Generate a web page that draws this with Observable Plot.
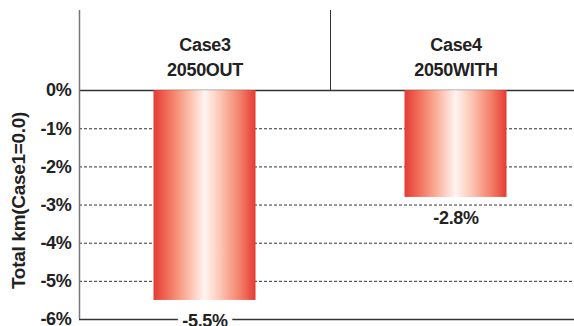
<!DOCTYPE html>
<html>
<head>
<meta charset="utf-8">
<script src="https://cdn.jsdelivr.net/npm/d3@7"></script>
<script src="https://cdn.jsdelivr.net/npm/@observablehq/plot@0.6"></script>
<style>
  html, body { margin: 0; padding: 0; background: #fff; overflow: hidden; }
  #chart { width: 574px; height: 326px; overflow: hidden; }
</style>
</head>
<body>
<div id="chart"></div>
<script>
// Scenario cases and their change in total km relative to Case1
const cases = ["Case3", "Case4"];
const years = ["2050OUT", "2050WITH"];
const changes = [-5.5, -2.8];
const yTicks = [0, -1, -2, -3, -4, -5, -6];
const yTitle = "Total km(Case1=0.0)";

const rows = cases.map((c, i) => ({case: c, year: years[i], value: changes[i]}));

const W = 574, H = 326;
const mLeft = 79;
const xRange = [mLeft, 581];
const bw = (xRange[1] - xRange[0]) / cases.length;
const barW = 102;
const font = "'Liberation Sans', Arial, Helvetica, sans-serif";
const ink = "#222";
const fs = 18;

// Horizontal red–white–red gradient used to fill the bars
function gradientDefs() {
  const ns = "http://www.w3.org/2000/svg";
  const defs = document.createElementNS(ns, "defs");
  const g = document.createElementNS(ns, "linearGradient");
  g.setAttribute("id", "barFade");
  g.setAttribute("x1", "0"); g.setAttribute("x2", "1");
  g.setAttribute("y1", "0"); g.setAttribute("y2", "0");
  [[0, "#e53a33"], [0.15, "#f2725d"], [0.32, "#fbb29c"], [0.5, "#fff4f0"],
   [0.66, "#fcc4b3"], [0.85, "#f47f68"], [1, "#e53a33"]].forEach(([o, c]) => {
    const s = document.createElementNS(ns, "stop");
    s.setAttribute("offset", o);
    s.setAttribute("stop-color", c);
    g.appendChild(s);
  });
  defs.appendChild(g);
  return defs;
}

const chart = Plot.plot({
  width: W,
  height: H,
  marginLeft: mLeft,
  marginRight: 0,
  marginTop: 10,
  marginBottom: 7,
  style: {fontFamily: font, fontWeight: "bold", fontSize: fs + "px", color: ink, background: "#fff", letterSpacing: "-0.3px"},
  x: {domain: cases, range: xRange, padding: 0, axis: null},
  y: {domain: [-6, 2.1], axis: null},
  marks: [
    gradientDefs,
    // dashed grid lines
    Plot.ruleY(yTicks.filter(d => d !== 0 && d !== -6), {stroke: "#333", strokeWidth: 1, strokeDasharray: "3,2"}),
    // solid zero line and bottom line
    Plot.ruleY([0, -6], {stroke: "#333", strokeWidth: 1.5}),
    // left axis line
    Plot.ruleX([cases[0]], {dx: -bw / 2, y1: -6, y2: 2.1, stroke: "#777", strokeWidth: 1.5}),
    // divider between the case headers
    Plot.ruleX([cases[1]], {dx: -bw / 2, y1: 0, y2: 2.1, stroke: "#333", strokeWidth: 1}),
    // bars
    Plot.barY(rows, {x: "case", y: "value", fill: "url(#barFade)",
      insetLeft: (bw - barW) / 2, insetRight: (bw - barW) / 2}),
    // value labels with white backing
    Plot.text(rows, {x: "case", y: "value", text: d => `${d.value}%`, dy: 21,
      fill: ink, stroke: "#fff", strokeWidth: 10, strokeLinejoin: "miter", fontSize: fs}),
    // case headers
    Plot.text(rows, {x: "case", y: () => 0, text: d => `${d.case}\n${d.year}`,
      dy: -35, lineAnchor: "middle", lineHeight: 1.38, fill: ink, fontSize: fs}),
    // y tick labels
    Plot.text(yTicks, {y: d => d, frameAnchor: "left", dx: -8, textAnchor: "end",
      text: d => `${d}%`, fill: ink, fontSize: fs, letterSpacing: "0.3px"}),
    // y axis title
    Plot.text([yTitle], {frameAnchor: "left", y: () => -2.88, dx: -61, rotate: -90,
      textAnchor: "middle", fill: ink, fontSize: 19})
  ]
});

document.getElementById("chart").appendChild(chart);
</script>
</body>
</html>
